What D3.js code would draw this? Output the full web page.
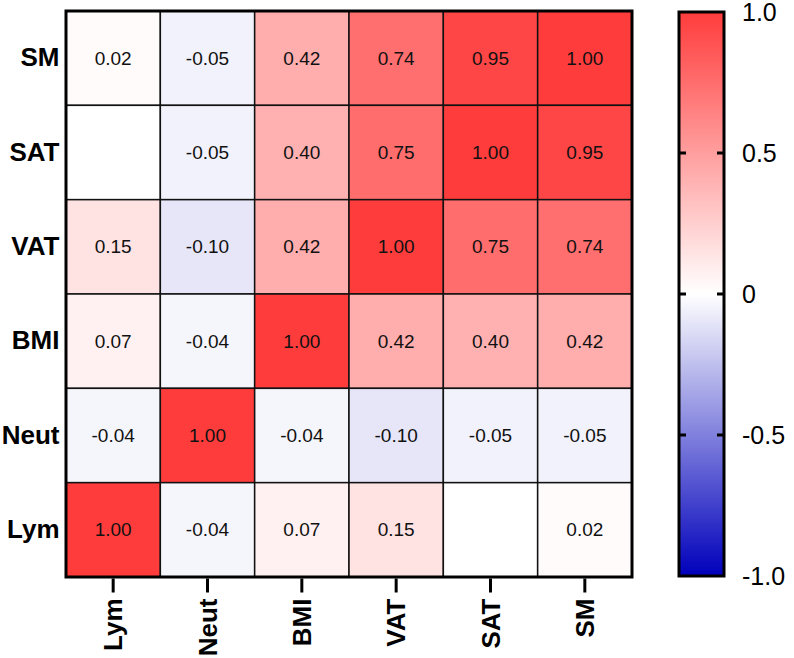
<!DOCTYPE html>
<html>
<head>
<meta charset="utf-8">
<script src="https://cdn.jsdelivr.net/npm/d3@7"></script>
<style>
  html, body { margin: 0; padding: 0; background: #fff; }
  svg { display: block; font-family: Arial, "Liberation Sans", sans-serif; }
</style>
</head>
<body>
<svg id="chart" width="794" height="658"></svg>
<script>
const columns = ["Lym", "Neut", "BMI", "VAT", "SAT", "SM"];
const rows = ["SM", "SAT", "VAT", "BMI", "Neut", "Lym"];
const rowSM   = [0.02, -0.05, 0.42, 0.74, 0.95, 1.00];
const rowSAT  = [null, -0.05, 0.40, 0.75, 1.00, 0.95];
const rowVAT  = [0.15, -0.10, 0.42, 1.00, 0.75, 0.74];
const rowBMI  = [0.07, -0.04, 1.00, 0.42, 0.40, 0.42];
const rowNeut = [-0.04, 1.00, -0.04, -0.10, -0.05, -0.05];
const rowLym  = [1.00, -0.04, 0.07, 0.15, null, 0.02];
const legendTicks = [-1.0, -0.5, 0, 0.5, 1.0];
const legendTickLabels = ["-1.0", "-0.5", "0", "0.5", "1.0"];

(function () {
const matrix = [rowSM, rowSAT, rowVAT, rowBMI, rowNeut, rowLym];
const cells = [];
matrix.forEach((vals, ri) => vals.forEach((v, ci) => cells.push({row: rows[ri], col: columns[ci], value: v})));

const svg = d3.select("#chart");
const pLeft = 66, pRight = 632, pTop = 11, pBottom = 577;

const x = d3.scaleBand().domain(columns).range([pLeft, pRight]);
const y = d3.scaleBand().domain(rows).range([pTop, pBottom]);
const color = d3.scaleLinear().domain([-1, 0, 1])
  .range(["#0000bb", "#ffffff", "#ff3c3c"]).interpolate(d3.interpolateRgb);

const g = svg.append("g");
g.selectAll("rect.cell").data(cells).join("rect")
  .attr("class", "cell")
  .attr("x", d => x(d.col)).attr("y", d => y(d.row))
  .attr("width", x.bandwidth()).attr("height", y.bandwidth())
  .attr("fill", d => d.value == null ? "#ffffff" : color(d.value))
  .attr("stroke", "#111").attr("stroke-width", 1.5);

g.selectAll("text.val").data(cells.filter(d => d.value != null)).join("text")
  .attr("class", "val")
  .attr("x", d => x(d.col) + x.bandwidth() / 2)
  .attr("y", d => y(d.row) + y.bandwidth() / 2)
  .attr("text-anchor", "middle").attr("dominant-baseline", "central")
  .attr("font-size", 19).attr("fill", "#111")
  .text(d => d.value.toFixed(2));

g.append("rect").attr("x", pLeft).attr("y", pTop)
  .attr("width", pRight - pLeft).attr("height", pBottom - pTop)
  .attr("fill", "none").attr("stroke", "#000").attr("stroke-width", 3);

// x axis
const xAxis = svg.append("g").attr("transform", `translate(0,${pBottom + 1.5})`)
  .call(d3.axisBottom(x).tickSize(14).tickPadding(6));
xAxis.select(".domain").remove();
xAxis.selectAll(".tick line").attr("stroke", "#000").attr("stroke-width", 3);
xAxis.selectAll(".tick text")
  .attr("font-size", 26).attr("font-weight", "bold").attr("fill", "#000")
  .attr("font-family", "Arial, 'Liberation Sans', sans-serif")
  .attr("transform", "rotate(-90)")
  .attr("text-anchor", "end").attr("dy", "0.35em")
  .attr("x", -20).attr("y", 0);

// y axis
const yAxis = svg.append("g").attr("transform", `translate(${pLeft - 1.5},0)`)
  .call(d3.axisLeft(y).tickSize(0).tickPadding(5));
yAxis.select(".domain").remove();
yAxis.selectAll(".tick text")
  .attr("font-size", 26).attr("font-weight", "bold").attr("fill", "#000")
  .attr("font-family", "Arial, 'Liberation Sans', sans-serif");

// color legend
const lx0 = 679, lx1 = 724, ly0 = 12, ly1 = 576;
const ls = d3.scaleLinear().domain([-1, 1]).range([ly1, ly0]);
const defs = svg.append("defs");
const grad = defs.append("linearGradient").attr("id", "cbar")
  .attr("x1", 0).attr("y1", 1).attr("x2", 0).attr("y2", 0);
[-1, -0.5, 0, 0.5, 1].forEach(v => grad.append("stop")
  .attr("offset", (v + 1) / 2).attr("stop-color", color(v)));
svg.append("rect").attr("x", lx0).attr("y", ly0)
  .attr("width", lx1 - lx0).attr("height", ly1 - ly0)
  .attr("fill", "url(#cbar)").attr("stroke", "#000").attr("stroke-width", 3);
const lt = svg.append("g");
lt.selectAll("line.l").data(legendTicks.slice(1, -1)).join("line")
  .attr("class", "l")
  .attr("x1", lx0).attr("x2", lx0 + 7).attr("y1", d => ls(d)).attr("y2", d => ls(d))
  .attr("stroke", "#000").attr("stroke-width", 3);
lt.selectAll("line.r").data(legendTicks.slice(1, -1)).join("line")
  .attr("class", "r")
  .attr("x1", lx1 - 7).attr("x2", lx1).attr("y1", d => ls(d)).attr("y2", d => ls(d))
  .attr("stroke", "#000").attr("stroke-width", 3);
lt.selectAll("text").data(legendTicks).join("text")
  .attr("x", 742).attr("y", d => ls(d))
  .attr("dominant-baseline", "central")
  .attr("font-size", 25).attr("fill", "#000")
  .text((d, i) => legendTickLabels[i]);
})();
</script>
</body>
</html>
